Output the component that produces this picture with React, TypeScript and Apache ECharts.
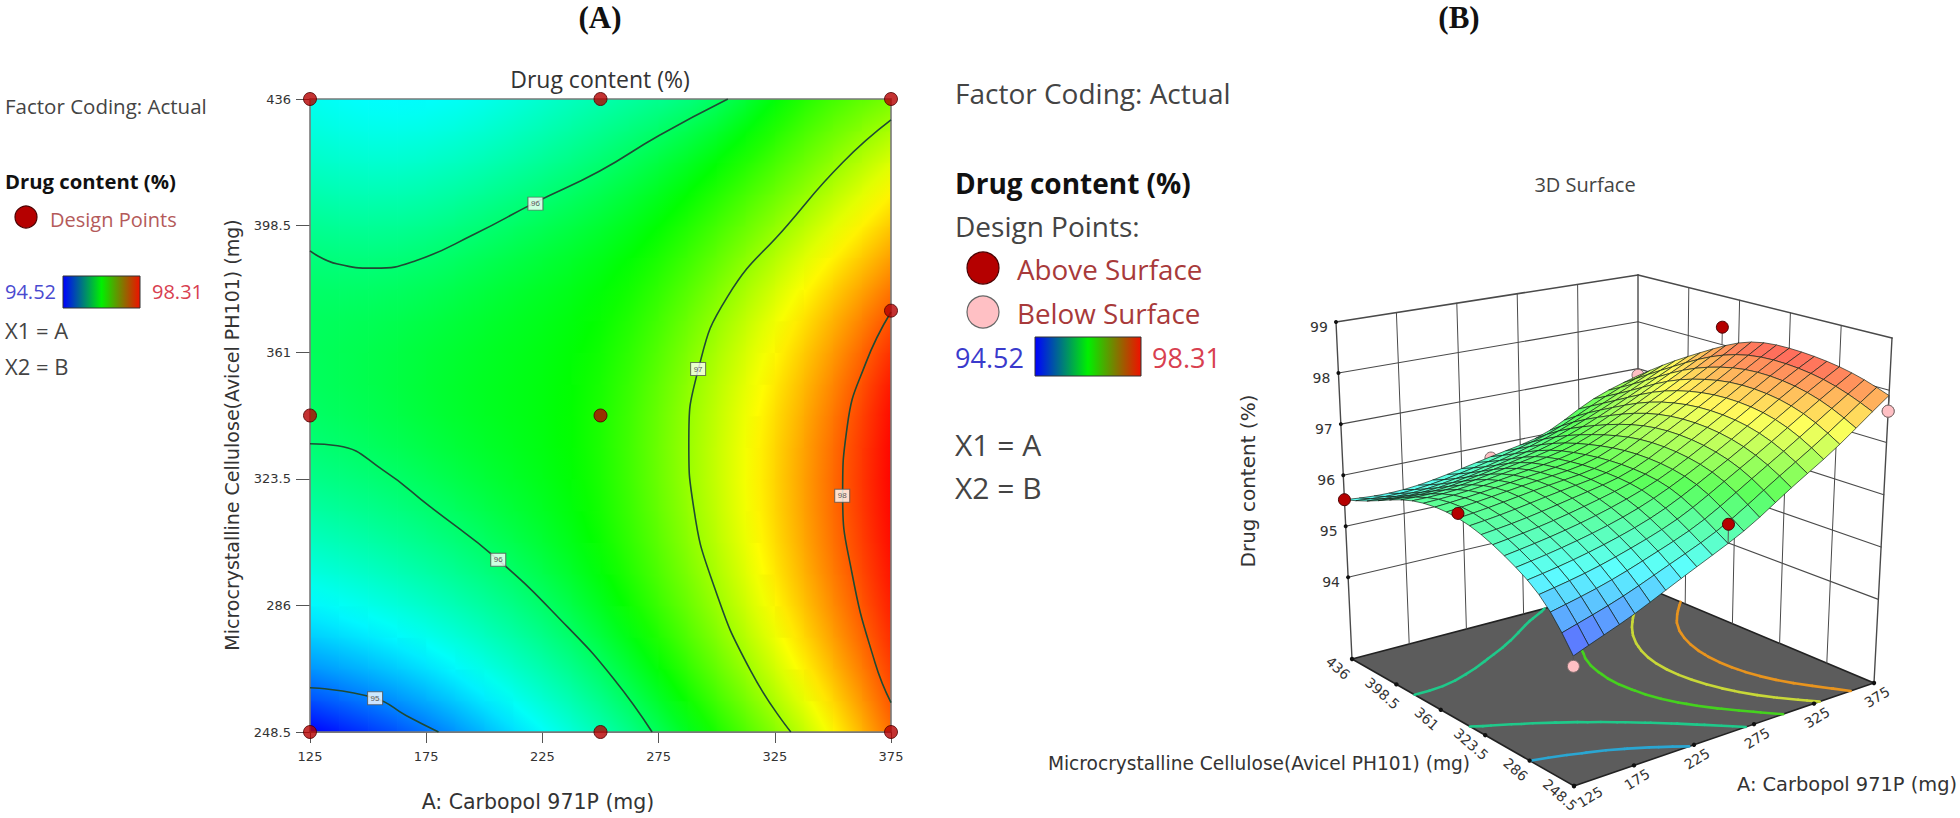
import React, { useEffect, useRef } from "react";
import * as echarts from "echarts";

const carbopolTicks = [125, 175, 225, 275, 325, 375];
const mccTicks = [248.5, 286, 323.5, 361, 398.5, 436];
const drugTicks = [94, 95, 96, 97, 98, 99];
const carbopolNodes = [125, 137.5, 150, 162.5, 175, 187.5, 200, 212.5, 225, 237.5, 250, 262.5, 275, 287.5, 300, 312.5, 325, 337.5, 350, 362.5, 375];
const mccNodes = [248.5, 257.875, 267.25, 276.625, 286, 295.375, 304.75, 314.125, 323.5, 332.875, 342.25, 351.625, 361, 370.375, 379.75, 389.125, 398.5, 407.875, 417.25, 426.625, 436];

const drugReadings = [
  [94.52, 94.63, 94.73, 94.83, 94.92, 95.08, 95.21, 95.35, 95.48, 95.62, 95.76, 95.89, 96.06, 96.32, 96.53, 96.71, 96.9, 97.1, 97.38, 97.66, 97.9],
  [94.85, 94.91, 94.97, 95.05, 95.16, 95.28, 95.41, 95.53, 95.65, 95.76, 95.88, 96.0, 96.25, 96.47, 96.67, 96.85, 97.05, 97.3, 97.52, 97.75, 98.0],
  [95.12, 95.19, 95.27, 95.34, 95.41, 95.47, 95.58, 95.69, 95.79, 95.88, 95.98, 96.2, 96.43, 96.63, 96.8, 96.98, 97.2, 97.43, 97.63, 97.86, 98.08],
  [95.32, 95.36, 95.39, 95.44, 95.5, 95.6, 95.7, 95.8, 95.89, 95.98, 96.17, 96.39, 96.57, 96.74, 96.88, 97.09, 97.33, 97.52, 97.72, 97.96, 98.15],
  [95.47, 95.51, 95.56, 95.62, 95.69, 95.76, 95.84, 95.92, 95.99, 96.15, 96.33, 96.49, 96.64, 96.8, 96.97, 97.2, 97.41, 97.6, 97.8, 98.03, 98.2],
  [95.58, 95.62, 95.68, 95.74, 95.81, 95.88, 95.94, 96.01, 96.14, 96.27, 96.39, 96.54, 96.7, 96.86, 97.05, 97.26, 97.46, 97.66, 97.87, 98.07, 98.24],
  [95.7, 95.75, 95.8, 95.86, 95.92, 95.97, 96.04, 96.15, 96.26, 96.35, 96.44, 96.59, 96.76, 96.93, 97.11, 97.3, 97.49, 97.7, 97.91, 98.1, 98.27],
  [95.82, 95.86, 95.9, 95.94, 95.98, 96.05, 96.13, 96.21, 96.29, 96.36, 96.46, 96.61, 96.79, 96.97, 97.14, 97.32, 97.51, 97.72, 97.94, 98.13, 98.29],
  [95.92, 95.95, 95.97, 96.01, 96.08, 96.15, 96.22, 96.28, 96.33, 96.38, 96.47, 96.64, 96.82, 96.98, 97.15, 97.33, 97.52, 97.72, 97.94, 98.14, 98.3],
  [96.0, 96.02, 96.06, 96.12, 96.18, 96.23, 96.28, 96.32, 96.36, 96.39, 96.48, 96.65, 96.83, 96.99, 97.16, 97.33, 97.52, 97.72, 97.93, 98.13, 98.3],
  [96.05, 96.09, 96.13, 96.18, 96.23, 96.27, 96.31, 96.34, 96.37, 96.39, 96.47, 96.64, 96.82, 96.98, 97.14, 97.31, 97.49, 97.68, 97.88, 98.08, 98.3],
  [96.08, 96.11, 96.15, 96.19, 96.23, 96.27, 96.3, 96.33, 96.36, 96.39, 96.46, 96.61, 96.79, 96.95, 97.11, 97.27, 97.44, 97.62, 97.81, 98.02, 98.24],
  [96.09, 96.11, 96.14, 96.17, 96.21, 96.25, 96.29, 96.32, 96.35, 96.38, 96.43, 96.56, 96.72, 96.88, 97.06, 97.22, 97.38, 97.56, 97.74, 97.95, 98.16],
  [96.08, 96.09, 96.11, 96.14, 96.17, 96.21, 96.25, 96.29, 96.33, 96.36, 96.4, 96.51, 96.65, 96.81, 96.99, 97.16, 97.31, 97.47, 97.65, 97.85, 98.02],
  [96.05, 96.04, 96.05, 96.07, 96.11, 96.15, 96.2, 96.25, 96.3, 96.34, 96.38, 96.45, 96.58, 96.73, 96.88, 97.06, 97.23, 97.41, 97.57, 97.73, 97.87],
  [95.98, 95.96, 95.95, 95.97, 96.0, 96.05, 96.11, 96.17, 96.22, 96.27, 96.33, 96.39, 96.49, 96.62, 96.76, 96.92, 97.07, 97.24, 97.41, 97.57, 97.72],
  [95.88, 95.85, 95.84, 95.85, 95.88, 95.93, 95.99, 96.06, 96.12, 96.18, 96.25, 96.32, 96.4, 96.51, 96.65, 96.8, 96.94, 97.08, 97.25, 97.41, 97.56],
  [95.77, 95.74, 95.73, 95.74, 95.77, 95.81, 95.86, 95.91, 95.96, 96.03, 96.12, 96.22, 96.32, 96.42, 96.54, 96.67, 96.81, 96.94, 97.1, 97.27, 97.42],
  [95.66, 95.64, 95.62, 95.62, 95.64, 95.68, 95.72, 95.78, 95.84, 95.9, 95.97, 96.08, 96.19, 96.31, 96.42, 96.52, 96.64, 96.79, 96.95, 97.09, 97.24],
  [95.58, 95.55, 95.53, 95.53, 95.55, 95.59, 95.63, 95.69, 95.75, 95.81, 95.87, 95.93, 95.98, 96.12, 96.27, 96.43, 96.55, 96.67, 96.79, 96.92, 97.05],
  [95.52, 95.48, 95.46, 95.45, 95.46, 95.49, 95.53, 95.59, 95.65, 95.71, 95.77, 95.83, 95.88, 95.93, 95.98, 96.2, 96.43, 96.57, 96.67, 96.76, 96.85],
];

const contour96Upper = [[125, 391], [136.9, 387.1], [152.7, 385.9], [170.5, 388.1], [196.1, 396.1], [221.8, 405.3], [249.5, 414.6], [275.2, 425.2], [304.8, 436]];
const contour96Lower = [[125, 333.9], [136.9, 333.3], [156.6, 326], [176.4, 315.4], [206, 299.5], [235.7, 279.7], [255.4, 264.5], [272.2, 248.5]];
const contour97 = [[375, 429.8], [354.2, 417.2], [330.5, 398.7], [304.8, 377.6], [292, 355.7], [288, 333.9], [290, 315.4], [298.9, 291.6], [314.7, 266.5], [331.9, 248.5]];
const contour98 = [[375, 372.9], [364.1, 357.7], [356.2, 339.2], [354.2, 318.7], [358.2, 295.6], [368.1, 269.1], [375, 257.2]];
const contour95 = [[125, 261.6], [152.7, 258.6], [166.5, 253.3], [180.3, 248.5]];
const contourLabels = [[222, 405, "96"], [206, 299.5, "96"], [292, 356, "97"], [354, 318.5, "98"], [153, 258.5, "95"]];
const designPoints = [[125, 248.5], [250, 248.5], [375, 248.5], [125, 342.25], [250, 342.25], [375, 373.3], [125, 436], [250, 436], [375, 436]];
const aboveSurface = [[125, 436, 95.52], [125, 342.25, 96.12], [250, 248.5, 96.1], [375, 373.3, 98.36]];
const belowSurface = [[375, 248.5, 97.6], [250, 436, 95.74], [375, 436, 96.86], [125, 248.5, 94.35], [250, 342.25, 96.2]];
const floorLevels = [95.44, 96, 96.5, 97, 97.5];
const floorColors = ["#2aa6d2", "#1fc98a", "#45d21e", "#c8d838", "#e8941e"];

const Z_MIN = 92.4;
const Z_MAX = 99;

// Hand readings carry small reading noise: a light binomial filter that keeps the edges removes it.
function denoise(rows: number[][]) {
  let t = rows.map((r) => r.slice());
  for (let pass = 0; pass < 3; pass++) {
    const a = t.map((r) => r.map((v, i) => (i === 0 || i === r.length - 1 ? v : (r[i - 1] + 2 * v + r[i + 1]) / 4)));
    t = a.map((r, j) => r.map((v, i) => (j === 0 || j === a.length - 1 ? v : (a[j - 1][i] + 2 * v + a[j + 1][i]) / 4)));
  }
  return t;
}
const drugContent = denoise(drugReadings);

const rainbowStops: [number, number[]][] = [
  [94.52, [0, 0, 255]], [95.47, [0, 255, 255]], [96.41, [0, 255, 0]], [97.36, [255, 255, 0]], [98.31, [255, 0, 0]],
];
function rainbowRgb(z: number) {
  if (z <= rainbowStops[0][0]) return rainbowStops[0][1];
  for (let k = 1; k < rainbowStops.length; k++) {
    if (z <= rainbowStops[k][0]) {
      const [z0, c0] = rainbowStops[k - 1];
      const [z1, c1] = rainbowStops[k];
      const t = (z - z0) / (z1 - z0);
      return c0.map((v, n) => v + (c1[n] - v) * t);
    }
  }
  return rainbowStops[4][1];
}
const rainbow = (z: number) => { const c = rainbowRgb(z); return `rgb(${Math.round(c[0])},${Math.round(c[1])},${Math.round(c[2])})`; };
const rainbowPale = (z: number) => { const c = rainbowRgb(z); const w = 0.36; return `rgb(${Math.round(c[0] * (1 - w) + 255 * w)},${Math.round(c[1] * (1 - w) + 255 * w)},${Math.round(c[2] * (1 - w) + 255 * w)})`; };

// Screen corners of the 3D box: [a, b] at floor and at top
const boxFloor = { F: [1574, 786], R: [1874, 683], L: [1352, 659], K: [1638, 584] };
const boxTop = { F: [1572, 381], R: [1892, 338], L: [1336, 322], K: [1638, 275] };
function project(A: number, B: number, z: number) {
  const a = (A - 125) / 250, b = (B - 248.5) / 187.5, c = (z - Z_MIN) / (Z_MAX - Z_MIN);
  const bil = (s: any, n: number) => (1 - a) * (1 - b) * s.F[n] + a * (1 - b) * s.R[n] + (1 - a) * b * s.L[n] + a * b * s.K[n];
  return [bil(boxFloor, 0) * (1 - c) + bil(boxTop, 0) * c, bil(boxFloor, 1) * (1 - c) + bil(boxTop, 1) * c];
}

function T(text: string, x: number, y: number, size: number, o: any = {}) {
  return {
    type: "text", x, y, rotation: o.rotation || 0, z: 10, silent: true,
    style: {
      text, x: 0, y: 0, fontSize: size, fontFamily: o.family || "'Open Sans'", fontWeight: o.weight || "normal",
      fill: o.color || "#444", align: o.align || "left", verticalAlign: "middle",
      textAlign: o.align || "left", textVerticalAlign: "middle",
    },
  };
}
function colorBar(x: number, y: number, w: number, h: number) {
  return {
    type: "rect", z: 10, silent: true, shape: { x, y, width: w, height: h },
    style: {
      fill: { type: "linear", x: 0, y: 0, x2: 1, y2: 0, colorStops: [{ offset: 0, color: "#0000ff" }, { offset: 0.5, color: "#00f000" }, { offset: 1, color: "#f01000" }] },
      stroke: "#333", lineWidth: 1,
    },
  };
}
function dot(x: number, y: number, r: number, fill: string, stroke: string) {
  return { type: "circle", z: 10, silent: true, shape: { cx: x, cy: y, r }, style: { fill, stroke, lineWidth: 1.2 } };
}

const heatCells: number[][] = [];
const surfaceCells: number[][] = [];
for (let j = 0; j < 20; j++) for (let i = 0; i < 20; i++) {
  heatCells.push([carbopolNodes[i], mccNodes[j], i, j]);
  surfaceCells.push([i, j]);
}
surfaceCells.sort((p, q) => q[0] + q[1] - (p[0] + p[1]));

function renderHeat(_: any, api: any) {
  const i = api.value(2), j = api.value(3);
  const [x0, y0] = api.coord([carbopolNodes[i], mccNodes[j + 1]]);
  const [x1, y1] = api.coord([carbopolNodes[i + 1], mccNodes[j]]);
  const z00 = drugContent[j + 1][i], z10 = drugContent[j + 1][i + 1], z01 = drugContent[j][i], z11 = drugContent[j][i + 1];
  const gx = (z10 + z11 - z00 - z01) / 2, gy = (z01 + z11 - z00 - z10) / 2;
  const m = Math.hypot(gx, gy) || 1e-6;
  const dx = gx / m, dy = gy / m, half = (Math.abs(dx) + Math.abs(dy)) / 2;
  const zc = (z00 + z10 + z01 + z11) / 4;
  return {
    type: "rect",
    shape: { x: x0, y: y0, width: x1 - x0 + (i < 19 ? 0.8 : 0), height: y1 - y0 + (j > 0 ? 0.8 : 0) },
    style: {
      fill: {
        type: "linear", x: 0.5 - dx * half, y: 0.5 - dy * half, x2: 0.5 + dx * half, y2: 0.5 + dy * half,
        colorStops: [{ offset: 0, color: rainbow(zc - m * half) }, { offset: 0.5, color: rainbow(zc) }, { offset: 1, color: rainbow(zc + m * half) }],
      },
    },
  };
}

function line3d(p: number[], q: number[], stroke: string, lineWidth: number) {
  return { type: "line", shape: { x1: p[0], y1: p[1], x2: q[0], y2: q[1] }, style: { stroke, lineWidth, lineCap: "round" } };
}

function floorContours() {
  const out: any[] = [];
  floorLevels.forEach((lv, n) => {
    const level = lv + 0.0007;
    for (let j = 0; j < 20; j++) for (let i = 0; i < 20; i++) {
      const c = [[i, j], [i + 1, j], [i + 1, j + 1], [i, j + 1]];
      const hits: number[][] = [];
      for (let e = 0; e < 4; e++) {
        const [i0, j0] = c[e], [i1, j1] = c[(e + 1) % 4];
        const z0 = drugContent[j0][i0], z1 = drugContent[j1][i1];
        if ((z0 - level) * (z1 - level) < 0) {
          const t = (level - z0) / (z1 - z0);
          hits.push(project(carbopolNodes[i0] + (carbopolNodes[i1] - carbopolNodes[i0]) * t, mccNodes[j0] + (mccNodes[j1] - mccNodes[j0]) * t, Z_MIN));
        }
      }
      for (let h = 0; h + 1 < hits.length; h += 2) out.push(line3d(hits[h], hits[h + 1], floorColors[n], 2.6));
    }
  });
  return out;
}

function renderBox() {
  const wall = "#4a4a4a";
  const kids: any[] = [];
  const cor = [[125, 248.5], [375, 248.5], [375, 436], [125, 436]].map((p) => project(p[0], p[1], Z_MIN));
  kids.push({ type: "polygon", shape: { points: cor }, style: { fill: "#5c5c5c", stroke: "#222", lineWidth: 1.6 } });
  carbopolTicks.forEach((A) => kids.push(line3d(project(A, 436, Z_MIN), project(A, 436, Z_MAX), wall, A === 125 || A === 375 ? 1.4 : 1)));
  mccTicks.forEach((B) => { if (B !== 436) kids.push(line3d(project(375, B, Z_MIN), project(375, B, Z_MAX), wall, B === 248.5 ? 1.4 : 1)); });
  drugTicks.forEach((z) => {
    kids.push(line3d(project(125, 436, z), project(375, 436, z), wall, z === 99 ? 1.6 : 1.1));
    kids.push(line3d(project(375, 436, z), project(375, 248.5, z), wall, z === 99 ? 1.6 : 1.1));
    const p = project(125, 436, z);
    kids.push({ type: "circle", shape: { cx: p[0], cy: p[1], r: 2 }, style: { fill: "#111" } });
  });
  kids.push(...floorContours());
  carbopolTicks.forEach((A) => { const p = project(A, 248.5, Z_MIN); kids.push({ type: "circle", shape: { cx: p[0], cy: p[1], r: 2.2 }, style: { fill: "#111" } }); });
  mccTicks.forEach((B) => { const p = project(125, B, Z_MIN); kids.push({ type: "circle", shape: { cx: p[0], cy: p[1], r: 2.2 }, style: { fill: "#111" } }); });
  return { type: "group", children: kids };
}

function renderSurfaceCell(_: any, api: any) {
  const i = api.value(0), j = api.value(1);
  const corners = [[i, j], [i + 1, j], [i + 1, j + 1], [i, j + 1]];
  const pts = corners.map(([u, v]) => project(carbopolNodes[u], mccNodes[v], drugContent[v][u]));
  const zc = corners.reduce((s, [u, v]) => s + drugContent[v][u], 0) / 4;
  return { type: "polygon", shape: { points: pts }, style: { fill: rainbowPale(zc), stroke: "rgba(15,30,20,0.66)", lineWidth: 1 } };
}

function renderPoint(fill: string, stroke: string) {
  return (_: any, api: any) => {
    const A = api.value(0), B = api.value(1), z = api.value(2);
    const i = Math.round((A - 125) / 12.5), j = Math.round((B - 248.5) / 9.375);
    const p = project(A, B, z), q = project(A, B, drugContent[j][i]);
    return {
      type: "group",
      children: [
        line3d(p, q, "#555", 1),
        { type: "circle", shape: { cx: p[0], cy: p[1], r: 6 }, style: { fill, stroke, lineWidth: 1 } },
      ],
    };
  };
}

function contourSeries(data: number[][]) {
  return { type: "line", data, smooth: true, symbol: "none", z: 3, silent: true, lineStyle: { color: "#1f4a34", width: 1.6 } };
}

function buildOption() {
  const dv = "'DejaVu Sans'";
  const graphicEls: any[] = [
    { type: "rect", z: 2, silent: true, shape: { x: 310, y: 99, width: 581, height: 633 }, style: { fill: "none", stroke: "#7a7a7a", lineWidth: 1.6 } },
    T("(A)", 600, 17, 31, { family: "'Liberation Serif'", weight: "bold", align: "center", color: "#111" }),
    T("(B)", 1459, 17, 31, { family: "'Liberation Serif'", weight: "bold", align: "center", color: "#111" }),
    T("Drug content (%)", 600, 79, 23, { align: "center", color: "#333" }),
    T("A: Carbopol 971P (mg)", 538, 802, 20.5, { family: dv, align: "center", color: "#333" }),
    T("Microcrystalline Cellulose(Avicel PH101) (mg)", 232, 435, 19, { family: dv, align: "center", rotation: Math.PI / 2, color: "#333" }),
    T("Factor Coding: Actual", 5, 106, 20.5),
    T("Drug content (%)", 5, 181, 20.3, { weight: "bold", color: "#111" }),
    dot(26, 217, 11, "#b50000", "#4a0000"),
    T("Design Points", 50, 219, 20, { color: "#b45a5a" }),
    T("94.52", 5, 291, 20, { color: "#4a4ad0" }),
    colorBar(63, 276, 77, 32),
    T("98.31", 152, 291, 20, { color: "#d8404f" }),
    T("X1 = A", 5, 330, 22),
    T("X2 = B", 5, 366, 22),
    T("Factor Coding: Actual", 955, 93, 28),
    T("Drug content (%)", 955, 183, 28, { weight: "bold", color: "#111" }),
    T("Design Points:", 955, 226, 28),
    dot(983, 268, 16, "#b50000", "#4a0000"),
    T("Above Surface", 1017, 269, 27.8, { color: "#a83a3a" }),
    dot(983, 312, 16, "#ffc0c4", "#666"),
    T("Below Surface", 1017, 313, 27.8, { color: "#a83a3a" }),
    T("94.52", 955, 357, 27, { color: "#3a3acc" }),
    colorBar(1035, 337, 106, 39),
    T("98.31", 1152, 357, 27, { color: "#d84050" }),
    T("X1 = A", 955, 444, 30),
    T("X2 = B", 955, 487, 30),
    T("3D Surface", 1585, 184, 20, { align: "center" }),
    T("Drug content (%)", 1248, 481, 20, { family: dv, align: "center", rotation: Math.PI / 2, color: "#333" }),
    T("Microcrystalline Cellulose(Avicel PH101) (mg)", 1259, 763, 18.6, { family: dv, align: "center", color: "#333" }),
    T("A: Carbopol 971P (mg)", 1847, 784, 19.4, { family: dv, align: "center", color: "#333" }),
  ];
  const tickFont = { family: dv, align: "center", color: "#333" };
  mccTicks.forEach((B) => {
    const p = project(125, B, Z_MIN);
    graphicEls.push(T(String(B), p[0] - 14, p[1] + 9, 14, { ...tickFont, rotation: -0.72 }));
  });
  carbopolTicks.forEach((A) => {
    const p = project(A, 248.5, Z_MIN);
    graphicEls.push(T(String(A), p[0] + (A === 125 ? 16 : 3), p[1] + (A === 125 ? 11 : 14), 14, { ...tickFont, rotation: 0.55 }));
  });
  drugTicks.forEach((z) => {
    const p = project(125, 436, z);
    graphicEls.push(T(String(z), p[0] - 17, p[1] + 5, 14, tickFont));
  });

  const axisCommon = {
    type: "value", scale: true, splitLine: { show: false },
    axisLine: { show: true, lineStyle: { color: "#7a7a7a" } },
  };
  const tickLabel = { fontFamily: dv, fontSize: 13, color: "#333", formatter: (v: number) => String(v), showMinLabel: true, showMaxLabel: true };
  return {
    animation: false,
    backgroundColor: "#ffffff",
    grid: { left: 310, top: 99, width: 581, height: 633, containLabel: false },
    xAxis: {
      ...axisCommon, min: 125, max: 375,
      axisTick: { show: true, length: 11, lineStyle: { color: "#555" }, customValues: carbopolTicks },
      axisLabel: { ...tickLabel, margin: 18, customValues: carbopolTicks },
    },
    yAxis: {
      ...axisCommon, min: 248.5, max: 436,
      axisTick: { show: true, length: 14, lineStyle: { color: "#555" }, customValues: mccTicks },
      axisLabel: { ...tickLabel, margin: 19, customValues: mccTicks },
    },
    graphic: { elements: graphicEls },
    series: [
      { type: "custom", coordinateSystem: "cartesian2d", renderItem: renderHeat, data: heatCells, z: 1, silent: true, clip: false, encode: { x: 0, y: 1 } },
      contourSeries(contour96Upper),
      contourSeries(contour96Lower),
      contourSeries(contour97),
      contourSeries(contour98),
      contourSeries(contour95),
      {
        type: "scatter", data: designPoints, symbol: "circle", symbolSize: 13, z: 5, clip: false, silent: true,
        itemStyle: { color: "#b50000", borderColor: "#4a0000", borderWidth: 1 },
      },
      {
        type: "scatter", data: contourLabels, symbol: "rect", symbolSize: [15, 13], z: 4, silent: true,
        itemStyle: { color: "#ffffff", borderColor: "#555", borderWidth: 1 },
        label: { show: true, position: "inside", fontSize: 8, color: "#333", formatter: (p: any) => p.value[2] },
      },
      { type: "custom", coordinateSystem: "none", renderItem: renderBox, data: [[0]], z: 1, silent: true },
      { type: "custom", coordinateSystem: "none", renderItem: renderPoint("#ffc0c4", "#7a6a6a"), data: belowSurface, z: 2, silent: true },
      { type: "custom", coordinateSystem: "none", renderItem: renderSurfaceCell, data: surfaceCells, z: 3, silent: true },
      { type: "custom", coordinateSystem: "none", renderItem: renderPoint("#b50000", "#4a0000"), data: aboveSurface, z: 4, silent: true },
      { type: "custom", coordinateSystem: "none", renderItem: renderPoint("#ffc0c4", "#7a6a6a"), data: [belowSurface[0], belowSurface[3]], z: 4, silent: true },
    ],
  };
}

export default function App() {
  const ref = useRef<HTMLDivElement>(null);
  useEffect(() => {
    document.body.style.margin = "0";
    const chart = echarts.init(ref.current as HTMLDivElement, undefined, { renderer: "svg" });
    chart.setOption(buildOption() as any);
    return () => chart.dispose();
  }, []);
  return <div ref={ref} style={{ width: 1960, height: 818 }} />;
}
